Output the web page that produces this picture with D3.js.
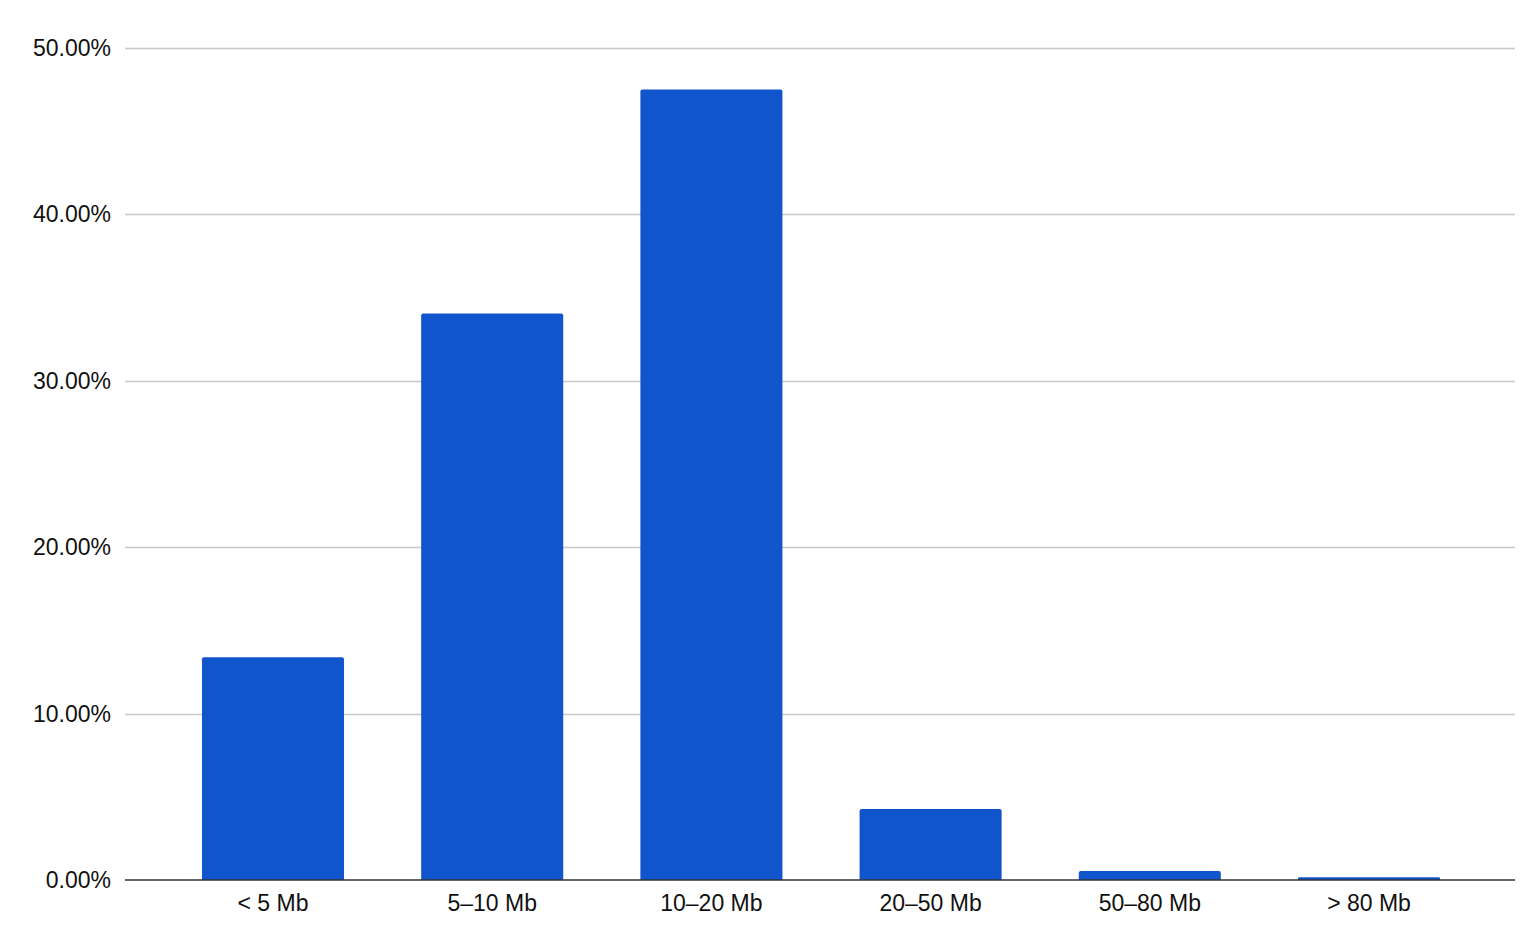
<!DOCTYPE html>
<html>
<head>
<meta charset="utf-8">
<script src="https://cdn.jsdelivr.net/npm/d3@7"></script>
<style>
  body { margin: 0; background: #fff; }
  svg { display: block; font-family: "Liberation Sans", Arial, sans-serif; }
</style>
</head>
<body>
<svg id="chart" width="1530" height="950"></svg>
<script>
const categories = ['< 5 Mb', '5–10 Mb', '10–20 Mb', '20–50 Mb', '50–80 Mb', '> 80 Mb'];
const shares = [0.1338, 0.3403, 0.4748, 0.0426, 0.0054, 0.0017];
const yTicks = [0, 0.1, 0.2, 0.3, 0.4, 0.5];

const svg = d3.select('#chart');
const plotLeft = 125, plotRight = 1515, plotTop = 47.5, plotBottom = 880;
const fontSize = 23;

const x = d3.scaleBand()
	.domain(categories)
	.range([127, plotRight])
	.paddingInner(0.352)
	.paddingOuter(0.342);

const y = d3.scaleLinear()
	.domain([0, 0.5])
	.range([plotBottom, plotTop]);

// gridlines
svg.append('g')
	.selectAll('line')
	.data(yTicks.filter(d => d > 0))
	.join('line')
	.attr('x1', plotLeft)
	.attr('x2', plotRight)
	.attr('y1', d => Math.round(y(d)) + 0.5)
	.attr('y2', d => Math.round(y(d)) + 0.5)
	.attr('stroke', '#c8c8c8')
	.attr('stroke-width', 1.4);

// y labels
svg.append('g')
	.selectAll('text')
	.data(yTicks)
	.join('text')
	.attr('x', 111)
	.attr('y', d => y(d))
	.attr('dy', '0.35em')
	.attr('text-anchor', 'end')
	.attr('font-size', fontSize)
	.attr('fill', '#111')
	.text(d => d3.format('.2%')(d));

// bars with slightly rounded tops
const r = 2;
svg.append('g')
	.selectAll('path')
	.data(categories.map((c, i) => ({ c, v: shares[i] })))
	.join('path')
	.attr('fill', '#1155cc')
	.attr('d', d => {
		const x0 = x(d.c), x1 = x0 + x.bandwidth();
		const y0 = plotBottom, y1 = y(d.v);
		const rr = Math.min(r, (y0 - y1) / 2);
		return `M${x0},${y0}V${y1 + rr}Q${x0},${y1} ${x0 + rr},${y1}H${x1 - rr}Q${x1},${y1} ${x1},${y1 + rr}V${y0}Z`;
	});

// baseline
svg.append('line')
	.attr('x1', plotLeft)
	.attr('x2', plotRight)
	.attr('y1', plotBottom)
	.attr('y2', plotBottom)
	.attr('stroke', '#333')
	.attr('stroke-width', 1.5);

// x labels
svg.append('g')
	.selectAll('text')
	.data(categories)
	.join('text')
	.attr('x', d => x(d) + x.bandwidth() / 2)
	.attr('y', 911)
	.attr('text-anchor', 'middle')
	.attr('font-size', fontSize)
	.attr('fill', '#111')
	.text(d => d);
</script>
</body>
</html>
